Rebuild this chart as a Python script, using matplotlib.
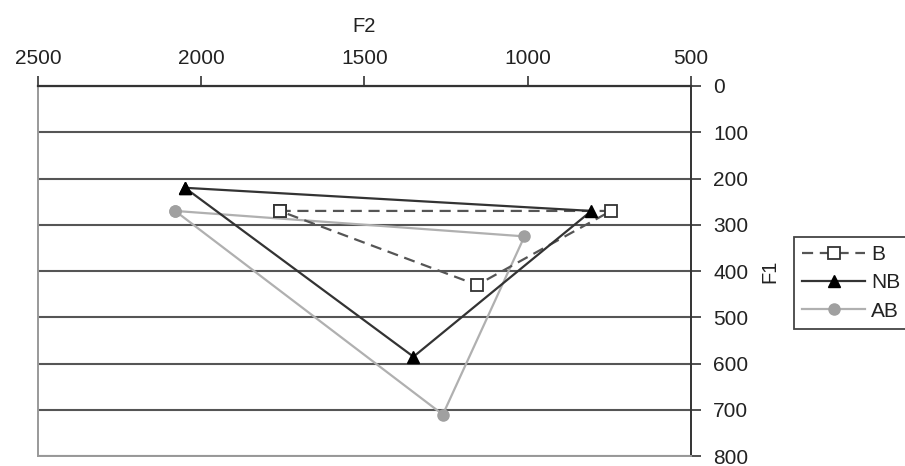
import matplotlib.pyplot as plt

plt.rcParams['font.family'] = ['Liberation Sans', 'DejaVu Sans']

# formant values (F2, F1) per speaker group, closed triangles
b_f2 = [1760, 745, 1155, 1760]
b_f1 = [270, 270, 430, 270]
nb_f2 = [2050, 805, 1350, 2050]
nb_f1 = [220, 270, 585, 220]
ab_f2 = [2080, 1010, 1260, 2080]
ab_f1 = [270, 325, 710, 270]

x_ticks = [2500, 2000, 1500, 1000, 500]
y_ticks = [0, 100, 200, 300, 400, 500, 600, 700, 800]

fig = plt.figure(figsize=(9.05, 4.66), dpi=100)
ax = fig.add_axes([0.042, 0.021, 0.7215, 0.7945])

ax.plot(b_f2, b_f1, color='#555555', lw=1.6, ls=(0, (5, 3)),
        marker='s', ms=8, mfc='white', mec='#333333', mew=1.3, label='B', zorder=4)
ax.plot(nb_f2, nb_f1, color='#333333', lw=1.6,
        marker='^', ms=9, mfc='black', mec='black', label='NB', zorder=5)
ax.plot(ab_f2, ab_f1, color='#b0b0b0', lw=1.6,
        marker='o', ms=8, mfc='#a0a0a0', mec='#a0a0a0', label='AB', zorder=3)

ax.set_xlim(2500, 500)
ax.set_ylim(800, 0)
ax.set_xticks(x_ticks)
ax.set_yticks(y_ticks)

ax.xaxis.tick_top()
ax.xaxis.set_label_position('top')
ax.yaxis.tick_right()
ax.yaxis.set_label_position('right')
ax.tick_params(axis='both', direction='out', length=7, width=1.2, color='#333333',
               labelsize=15, labelcolor='#222222', pad=9)
ax.tick_params(axis='x', pad=6)

ax.set_xlabel('F2', fontsize=14.5, color='#222222', labelpad=12.5)
ax.set_ylabel('F1', fontsize=14.5, color='#222222', labelpad=9)

ax.yaxis.grid(True, color='#555555', lw=1.5)
ax.set_axisbelow(True)

ax.spines['top'].set_color('#333333')
ax.spines['top'].set_linewidth(1.6)
ax.spines['right'].set_color('#333333')
ax.spines['right'].set_linewidth(1.4)
ax.spines['left'].set_color('#999999')
ax.spines['left'].set_linewidth(1.4)
ax.spines['bottom'].set_color('#999999')
ax.spines['bottom'].set_linewidth(1.4)

leg = fig.legend(loc='center left', bbox_to_anchor=(0.866, 0.393),
                 fontsize=15, handlelength=3.0, handletextpad=0.3,
                 labelspacing=0.45, borderpad=0.4, fancybox=False,
                 framealpha=1, edgecolor='#444444')
leg.get_frame().set_linewidth(1.3)
for t in leg.get_texts():
    t.set_color('#222222')

fig.savefig('out.png', dpi=100)
